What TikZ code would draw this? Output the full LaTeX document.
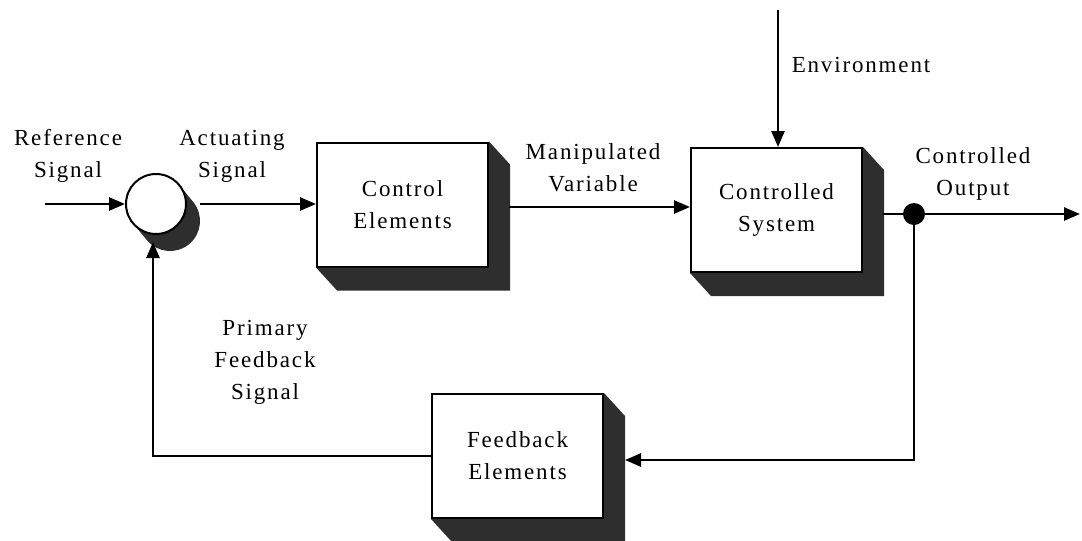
\documentclass[tikz,border=0pt]{standalone}
\usepackage{fontspec}
\setmainfont{Liberation Serif}[LetterSpace=8]
\usetikzlibrary{arrows.meta,calc}
\begin{document}
\begin{tikzpicture}[x=0.5pt,y=-0.5pt,
  txt/.style={font=\fontsize{11.5}{16}\selectfont, align=center},
  blk/.style={txt, draw, line width=1pt, fill=white, minimum width=85.5pt, minimum height=62pt, inner sep=0pt},
  lbl/.style={txt, inner sep=0pt},
  sig/.style={line width=1.3pt, -{Triangle[length=8pt,width=6.5pt]}},
  wire/.style={line width=1.3pt},
  shd/.style={fill=black!82},
]
\useasboundingbox (0,0) rectangle (1082,541);

% boxes
\node[blk] (ctrl) at (402.5,204.5) {Control\\Elements};
\node[blk] (sys) at (776.5,210) {Controlled\\System};
\node[blk] (fb) at (517.5,456) {Feedback\\Elements};
\foreach \n in {ctrl,sys,fb}
  \fill[shd] (\n.north east) -- ($(\n.north east)+(21,23)$) -- ($(\n.south east)+(21,23)$)
    -- ($(\n.south west)+(21,23)$) -- (\n.south west) -- (\n.south east) -- cycle;

% summing junction
\coordinate (sc) at (156,204);
\draw[draw=black!82, line width=30pt, line cap=round] (sc) -- ++(14,17);
\node[circle, draw, line width=1pt, fill=white, minimum size=30pt, inner sep=0pt] (sum) at (sc) {};

% pick-off point
\node[circle, fill=black, minimum size=11pt, inner sep=0pt] (dot) at (914,214) {};

% free ends
\coordinate (in) at (45,204);
\coordinate (sumout) at (200,204);
\coordinate (mv) at (509,207);
\coordinate (env) at (778,10);
\coordinate (sysout) at (883,214);
\coordinate (out) at (1080,214);
\coordinate (fbin) at (625,460);
\coordinate (fbret) at (153,242);

% connectors
\draw[sig] (in) -- (sum);
\draw[sig] (sumout) -- (sumout -| ctrl.west);
\draw[sig] (mv) -- (mv -| sys.west);
\draw[sig] (env) -- (env |- sys.north);
\draw[wire] (sysout) -- (dot);
\draw[sig] (dot) -- (out);
\draw[sig] (dot) |- (fbin);
\draw[sig] (fb.west) -| (fbret);

% labels
\node[lbl] (reflbl) at (68,156) {Reference\\Signal};
\node[lbl] (actlbl) at (232,156) {Actuating\\Signal};
\node[lbl] (mvlbl) at (593,168) {Manipulated\\Variable};
\node[lbl] (envlbl) at (861,65) {Environment};
\node[lbl] (outlbl) at (973,174) {Controlled\\Output};
\node[lbl] (pfblbl) at (265,362) {Primary\\Feedback\\Signal};
\end{tikzpicture}
\end{document}
